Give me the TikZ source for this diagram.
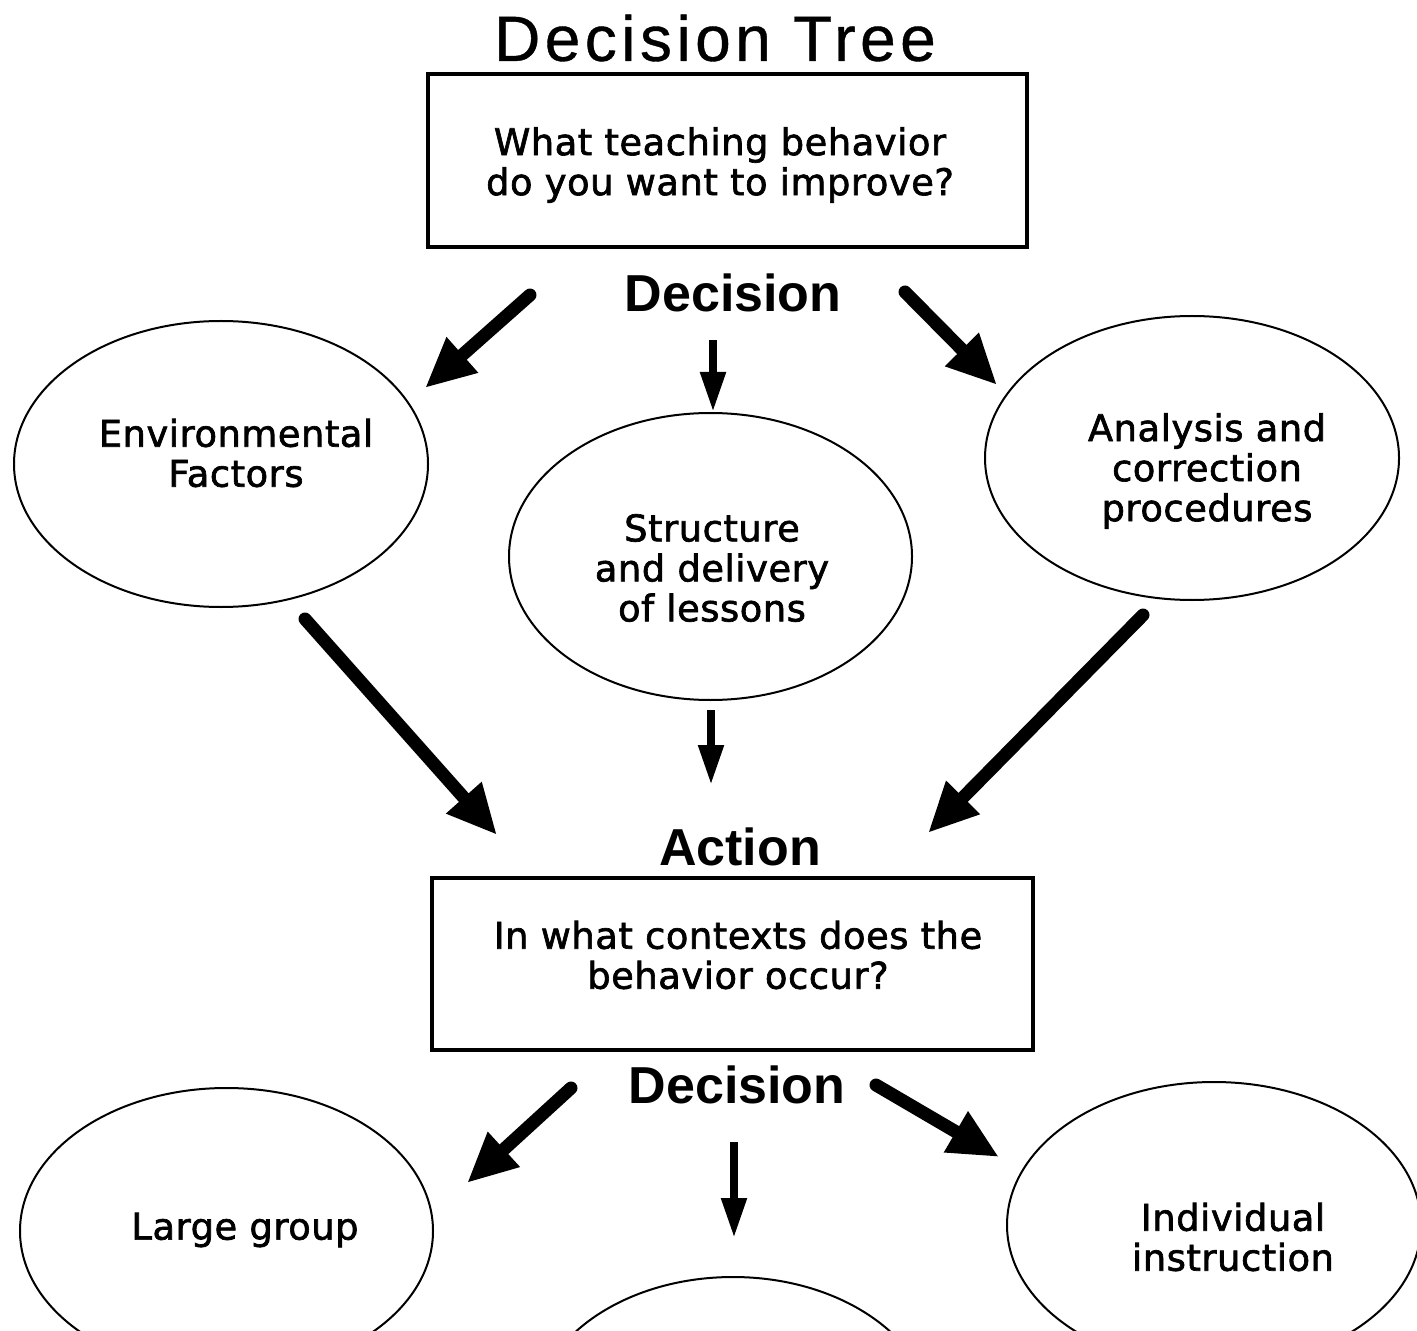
\documentclass[tikz,border=0pt]{standalone}
\usepackage{fontspec}
\setmainfont[FakeBold=1.8,LetterSpace=1.5]{DejaVu Sans}
\newfontfamily\headfont{Liberation Sans}
\newfontfamily\titlefont[LetterSpace=7,FakeBold=0.6]{Liberation Sans}
\usetikzlibrary{shapes.geometric,arrows.meta}
\begin{document}
\begin{tikzpicture}[x=0.5pt,y=-0.5pt,
  txt/.style={align=center,font=\fontsize{18.4}{20}\selectfont,inner sep=0},
  ell/.style={draw,ellipse,line width=1pt,inner sep=0},
  qbox/.style={draw,rectangle,line width=2.2pt,inner sep=0},
  head/.style={font=\headfont\bfseries\fontsize{26}{30}\selectfont,inner sep=0},
  titlestyle/.style={font=\titlefont\fontsize{32}{38}\selectfont,inner sep=0},
  bigarrow/.style={line width=6.5pt,line cap=round,-{Triangle[length=25pt,width=22pt]}},
  midarrow/.style={line width=4pt,-{Triangle[length=20pt,width=12pt]}}]
\useasboundingbox (0,0) rectangle (1417,1331);
\clip (0,0) rectangle (1417,1331);

% title
\node[titlestyle] (title) at (715,38) {Decision Tree};

% first question box
\node[qbox,minimum width=299.5pt,minimum height=86.5pt] (q1) at (727.5,160.5) {};
\node[txt] (q1t) at (720,165) {What teaching behavior\\do you want to improve?};

\node[head] (dec1) at (733,293) {Decision};

% ellipses row 1
\node[ell,minimum width=207pt,minimum height=143pt] (env) at (221,464) {};
\node[txt] (envt) at (236,453) {Environmental\\Factors};
\node[ell,minimum width=201.5pt,minimum height=143.5pt] (str) at (710.5,556.5) {};
\node[txt] (strt) at (712,568) {Structure\\and delivery\\of lessons};
\node[ell,minimum width=207pt,minimum height=142pt] (ana) at (1192,458) {};
\node[txt] (anat) at (1207,471) {Analysis and\\correction\\procedures};

% arrows decision -> ellipses
\coordinate (a1s) at (530,295); \coordinate (a1e) at (425,388);
\coordinate (a2s) at (713,340); \coordinate (a2e) at (713,412);
\coordinate (a3s) at (905,292); \coordinate (a3e) at (997,385);
\draw[bigarrow] (a1s) -- (a1e);
\draw[midarrow] (a2s) -- (a2e);
\draw[bigarrow] (a3s) -- (a3e);

% arrows ellipses -> action
\coordinate (b1s) at (305,619); \coordinate (b1e) at (497,835);
\coordinate (b2s) at (711,710); \coordinate (b2e) at (711,785);
\coordinate (b3s) at (1143,615); \coordinate (b3e) at (928,833);
\draw[bigarrow] (b1s) -- (b1e);
\draw[midarrow] (b2s) -- (b2e);
\draw[bigarrow] (b3s) -- (b3e);

\node[head] (act) at (740,847) {Action};

% second question box
\node[qbox,minimum width=300.5pt,minimum height=86pt] (q2) at (732.5,964) {};
\node[txt] (q2t) at (738,955) {In what contexts does the\\behavior occur?};

\node[head] (dec2) at (737,1085) {Decision};

% ellipses row 2
\node[ell,minimum width=206.5pt,minimum height=143pt] (lg) at (226.5,1231) {};
\node[txt] (lgt) at (245,1230) {Large group};
\node[ell,minimum width=200pt,minimum height=143pt] (sg) at (733,1420) {};
\node[ell,minimum width=207pt,minimum height=143pt] (ind) at (1214,1225) {};
\node[txt] (indt) at (1233,1237) {Individual\\instruction};

% arrows decision -> ellipses row 2
\coordinate (c1s) at (571,1088); \coordinate (c1e) at (467,1183);
\coordinate (c2s) at (734,1142); \coordinate (c2e) at (734,1238);
\coordinate (c3s) at (876,1085); \coordinate (c3e) at (999,1157);
\draw[bigarrow] (c1s) -- (c1e);
\draw[midarrow] (c2s) -- (c2e);
\draw[bigarrow] (c3s) -- (c3e);
\end{tikzpicture}
\end{document}
